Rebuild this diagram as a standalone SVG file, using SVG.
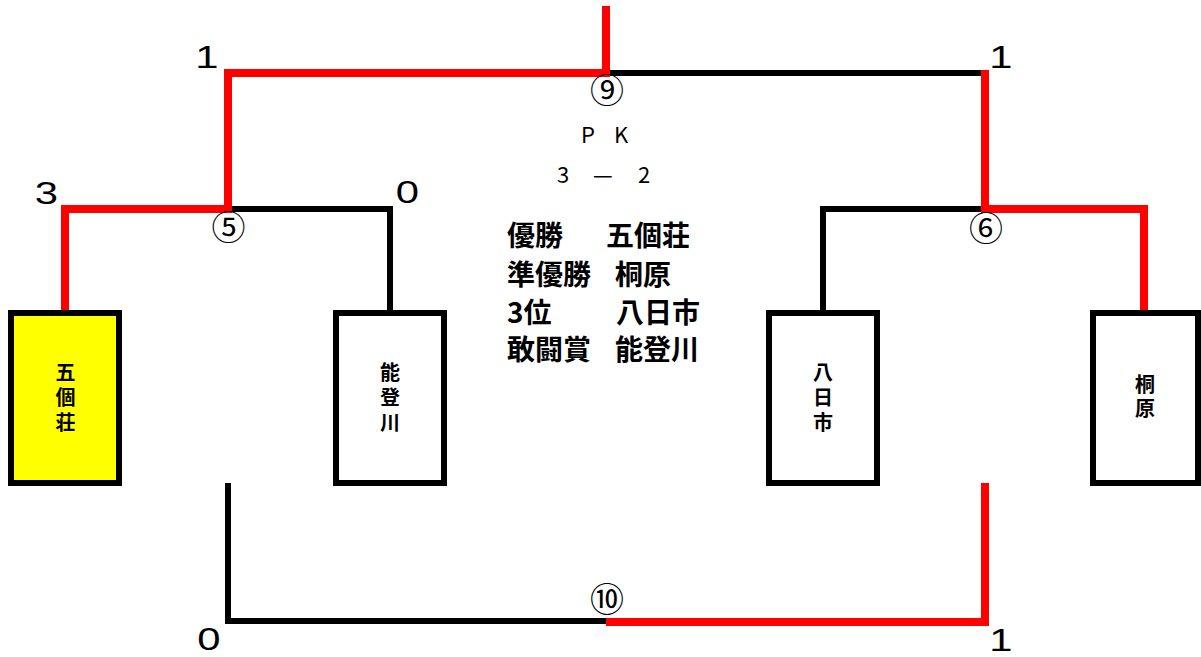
<svg xmlns="http://www.w3.org/2000/svg" width="1201" height="657" viewBox="0 0 1201 657">
<style>
.blk{fill:none;stroke:#000;stroke-width:6}
.red{fill:none;stroke:#f00;stroke-width:8}
.box{fill:#fff;stroke:#000;stroke-width:6}
.win{fill:#ff0}
.score{font-family:"Liberation Sans",Arial,sans-serif;font-size:31px;fill:#000;text-anchor:middle}
.circ{font-family:"Noto Sans CJK JP","DejaVu Sans",sans-serif;font-size:34px;fill:#000;text-anchor:middle}
.team{font-family:"Noto Sans CJK JP",sans-serif;font-size:20px;font-weight:bold;fill:#000;writing-mode:vertical-rl;letter-spacing:5px}
.pk{font-family:"Noto Sans CJK JP","Liberation Sans",sans-serif;font-size:22px;fill:#000}
.res{font-family:"Noto Sans CJK JP",sans-serif;font-size:28px;font-weight:bold;fill:#000}
</style>
<rect width="1201" height="657" fill="#fff"/>
<g id="connectors">
<path class="blk" d="M606,73 H985"/>
<path class="blk" d="M228,209 H390 V310"/>
<path class="blk" d="M985,209 H823 V310"/>
<path class="blk" d="M228,483 V621 H606"/>
<path class="red" d="M606,6 V73 H228 V209 H65 V310"/>
<path class="red" d="M985,70 V209 H1144 V310"/>
<path class="red" d="M985,483 V622 H606"/>
</g>
<g id="team-gokasho">
<rect class="box win" x="11" y="313" width="108" height="170"/>
<text class="team" x="65.5" y="362">五個荘</text>
</g>
<g id="team-notogawa">
<rect class="box" x="336" y="313" width="108" height="170"/>
<text class="team" x="390" y="362">能登川</text>
</g>
<g id="team-yokaichi">
<rect class="box" x="769" y="313" width="108" height="170"/>
<text class="team" x="823" y="362">八日市</text>
</g>
<g id="team-kirihara">
<rect class="box" x="1093" y="313" width="105" height="170"/>
<text class="team" x="1145" y="374" style="letter-spacing:4px">桐原</text>
</g>
<g id="match-labels">
<text class="circ" x="228.5" y="240">⑤</text>
<text class="circ" x="986" y="241">⑥</text>
<text class="circ" x="607" y="103">⑨</text>
<text class="circ" x="607" y="612">⑩</text>
</g>
<g id="scores">
<text class="score" transform="translate(207,68) scale(1.35,1)">1</text>
<text class="score" transform="translate(1001,68) scale(1.35,1)">1</text>
<text class="score" transform="translate(46.5,204) scale(1.35,1)">3</text>
<text class="score" transform="translate(407.5,203) scale(1.35,1)">0</text>
<text class="score" transform="translate(209,650) scale(1.35,1)">0</text>
<text class="score" transform="translate(1001,651) scale(1.35,1)">1</text>
</g>
<g id="pk">
<text class="pk" y="143"><tspan x="581">P</tspan><tspan x="614">K</tspan></text>
<text class="pk" y="183"><tspan x="557">3</tspan><tspan x="593">—</tspan><tspan x="638">2</tspan></text>
</g>
<g id="results">
<text class="res" y="246"><tspan x="507">優勝</tspan><tspan x="606">五個荘</tspan></text>
<text class="res" y="285"><tspan x="507">準優勝</tspan><tspan x="615">桐原</tspan></text>
<text class="res" y="323"><tspan x="507">3位</tspan><tspan x="616">八日市</tspan></text>
<text class="res" y="360"><tspan x="507">敢闘賞</tspan><tspan x="615">能登川</tspan></text>
</g>
</svg>
